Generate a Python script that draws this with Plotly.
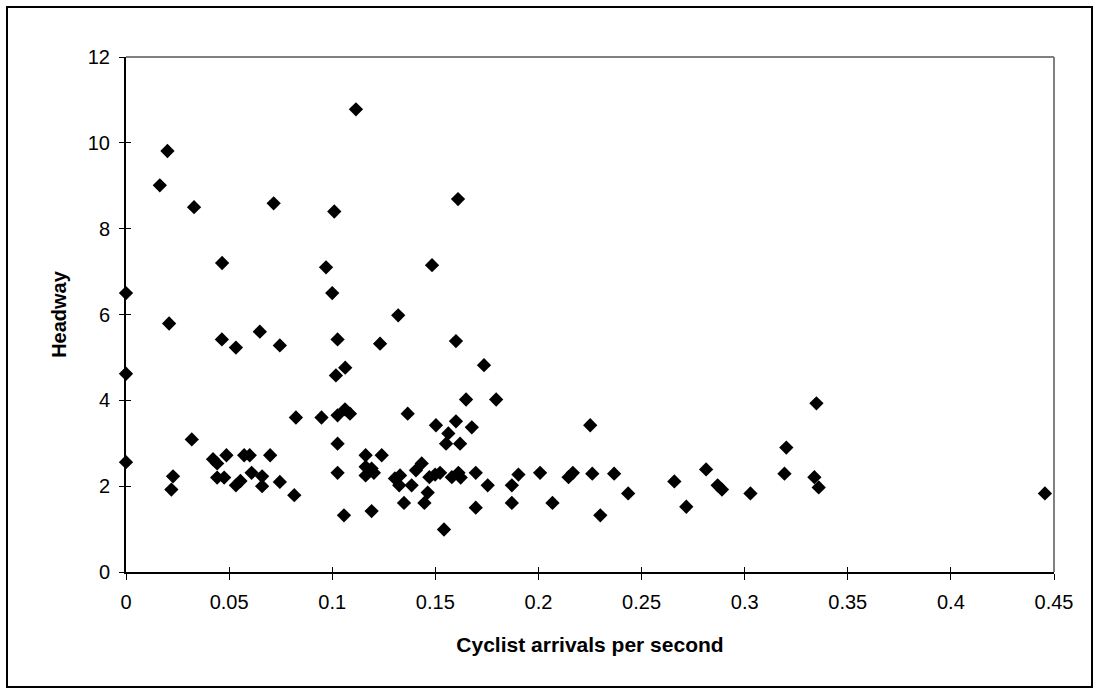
import plotly.graph_objects as go

arrivals = [0, 0, 0, 0.0164, 0.0201, 0.0209, 0.0228, 0.022, 0.0319, 0.033,
            0.0422, 0.0442, 0.0442, 0.0465, 0.0466, 0.0476, 0.0487, 0.0533, 0.0533, 0.0555,
            0.0573, 0.06, 0.0609, 0.0649, 0.066, 0.066, 0.0699, 0.0716, 0.0746, 0.0746,
            0.0816, 0.0824, 0.0948, 0.097, 0.1, 0.101, 0.1018, 0.1026, 0.1026, 0.1026,
            0.1026, 0.1057, 0.1062, 0.1063, 0.1086, 0.1115, 0.1162, 0.1162, 0.1162, 0.1191,
            0.1191, 0.1202, 0.1232, 0.124, 0.132, 0.1304, 0.1329, 0.1325, 0.1348, 0.1366,
            0.1385, 0.1406, 0.1434, 0.1447, 0.1463, 0.1471, 0.1484, 0.1499, 0.1503, 0.1523,
            0.1542, 0.1552, 0.1563, 0.158, 0.16, 0.16, 0.161, 0.1612, 0.162, 0.1623,
            0.1649, 0.1677, 0.1696, 0.1696, 0.1736, 0.1754, 0.1795, 0.1871, 0.1871, 0.1903,
            0.2008, 0.2068, 0.2146, 0.2167, 0.2251, 0.2261, 0.23, 0.2367, 0.2435, 0.2659,
            0.2717, 0.2813, 0.2869, 0.289, 0.3028, 0.3193, 0.3202, 0.3338, 0.3348, 0.3359,
            0.4456]
headway = [6.5, 4.62, 2.56, 9.01, 9.81, 5.79, 2.23, 1.92, 3.09, 8.5,
           2.63, 2.53, 2.2, 5.42, 7.2, 2.2, 2.72, 5.23, 2.02, 2.12,
           2.72, 2.72, 2.31, 5.6, 2.23, 2.0, 2.72, 8.59, 5.28, 2.1,
           1.79, 3.6, 3.6, 7.1, 6.5, 8.4, 4.58, 5.42, 3.65, 2.99,
           2.31, 1.32, 3.79, 4.76, 3.69, 10.78, 2.72, 2.45, 2.25, 2.41,
           1.42, 2.31, 5.32, 2.72, 5.98, 2.18, 2.25, 2.02, 1.61, 3.69,
           2.02, 2.37, 2.53, 1.61, 1.85, 2.21, 7.15, 2.27, 3.42, 2.31,
           0.99, 2.99, 3.23, 2.21, 5.38, 3.51, 8.69, 2.31, 2.99, 2.2,
           4.02, 3.37, 2.31, 1.5, 4.82, 2.02, 4.02, 2.02, 1.61, 2.27,
           2.31, 1.61, 2.21, 2.31, 3.42, 2.29, 1.32, 2.29, 1.83, 2.11,
           1.52, 2.39, 2.02, 1.92, 1.83, 2.29, 2.9, 2.21, 3.93, 1.97,
           1.83]

x_title = "Cyclist arrivals per second"
y_title = "Headway"

FONT = "Arial, Liberation Sans, sans-serif"

fig = go.Figure()
fig.add_trace(go.Scatter(
    x=arrivals, y=headway, mode="markers",
    marker=dict(symbol="diamond", size=11, color="#000000", line=dict(width=0)),
    cliponaxis=False, showlegend=False, hoverinfo="x+y",
))
# invisible trace to anchor the inner-tick overlay axes
fig.add_trace(go.Scatter(x=[None], y=[None], xaxis="x2", yaxis="y2", showlegend=False))

axis_common = dict(showgrid=False, zeroline=False, color="#000000",
                   tickfont=dict(family=FONT, size=20, color="#000000"))

fig.update_layout(
    width=1099, height=694,
    paper_bgcolor="white", plot_bgcolor="white",
    margin=dict(l=126, r=45, t=57, b=122),
    font=dict(family=FONT, color="#000000"),
    xaxis=dict(range=[0, 0.45], dtick=0.05, tick0=0, ticks="outside", ticklen=6,
               tickwidth=1, tickcolor="#000000", showline=True, linecolor="#000000",
               linewidth=2, ticklabelstandoff=5,
               title=dict(text=x_title, font=dict(family=FONT, size=21, weight="bold"), standoff=25),
               **axis_common),
    yaxis=dict(range=[0, 12], dtick=2, tick0=0, ticks="outside", ticklen=5,
               tickwidth=1, tickcolor="#000000", showline=True, linecolor="#000000",
               linewidth=2, ticklabelstandoff=5,
               title=dict(text=y_title, font=dict(family=FONT, size=20, weight="bold"), standoff=16),
               **axis_common),
    xaxis2=dict(overlaying="x", matches="x", anchor="y2", range=[0, 0.45], dtick=0.05,
                ticks="inside", ticklen=5, tickcolor="#000000", showticklabels=False,
                showgrid=False, zeroline=False, showline=False, side="bottom"),
    yaxis2=dict(overlaying="y", matches="y", anchor="x2", range=[0, 12], dtick=2,
                ticks="inside", ticklen=5, tickcolor="#000000", showticklabels=False,
                showgrid=False, zeroline=False, showline=False, side="left"),
    shapes=[
        dict(type="line", xref="paper", yref="paper", x0=0, x1=1, y0=1, y1=1,
             line=dict(color="#808080", width=2)),
        dict(type="line", xref="paper", yref="paper", x0=1, x1=1, y0=0, y1=1,
             line=dict(color="#808080", width=2)),
        dict(type="rect", xref="paper", yref="paper",
             x0=(7 - 126) / 928, x1=(1092 - 126) / 928,
             y0=(572 - 687) / 515, y1=(572 - 7) / 515,
             line=dict(color="#000000", width=2), fillcolor="rgba(0,0,0,0)", layer="below"),
    ],
)

fig.write_html(
    "out.html",
    config={"displayModeBar": False},
    post_script="document.body.style.margin='0';document.documentElement.style.overflow='hidden';document.body.style.overflow='hidden';",
)
